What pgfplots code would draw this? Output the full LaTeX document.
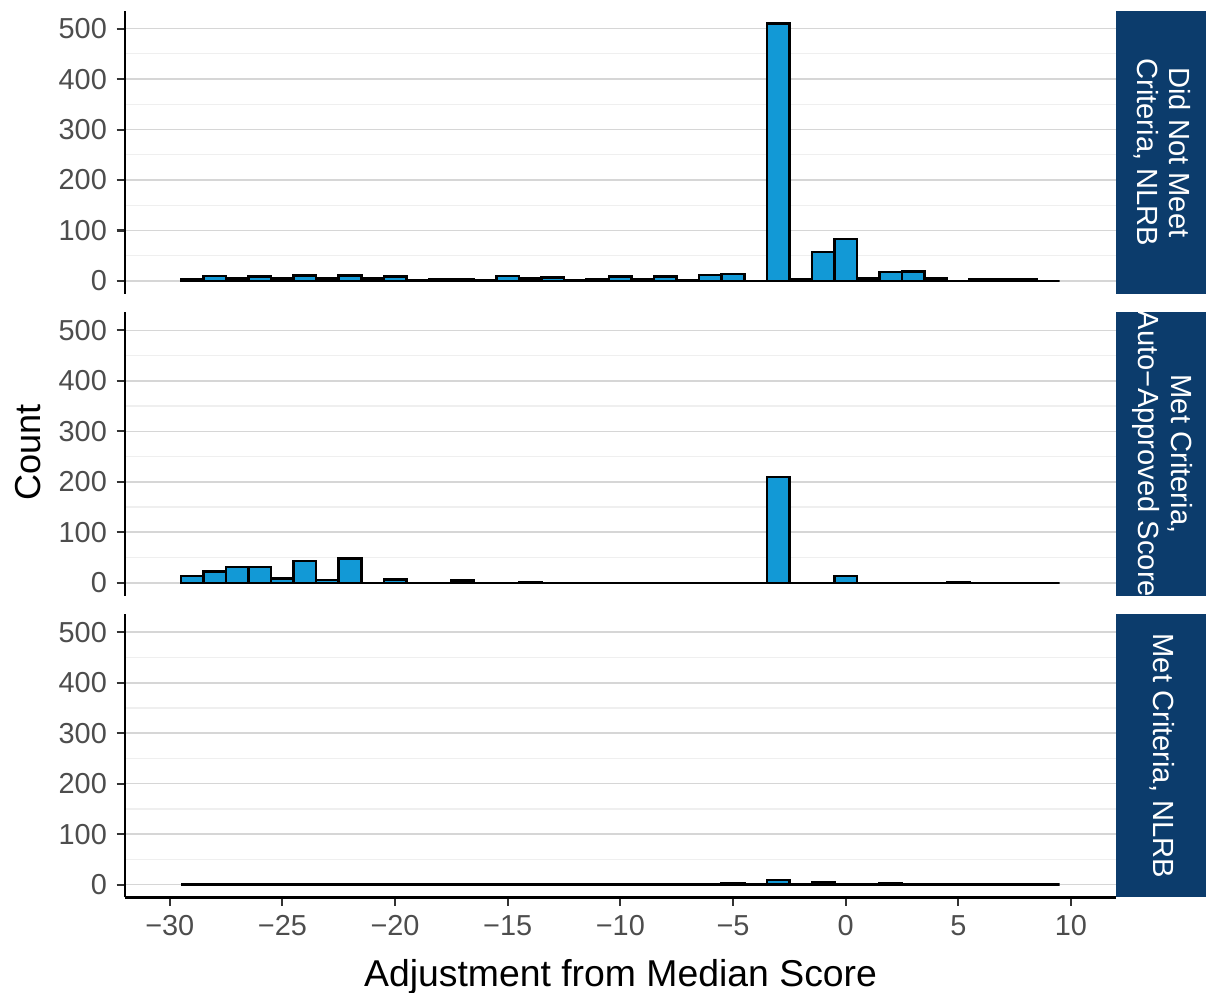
\documentclass[border=0pt]{standalone}
\usepackage{pgfplots}
\pgfplotsset{compat=1.18}
\usepackage{fontspec}
\setmainfont{Liberation Sans}

\definecolor{barfill}{HTML}{1299D6}
\definecolor{stripbg}{HTML}{0C3C6C}
\definecolor{gridmajor}{HTML}{D6D6D6}
\definecolor{gridminor}{HTML}{EFEFEF}
\definecolor{ticktext}{HTML}{4D4D4D}
\definecolor{tickmark}{HTML}{333333}

\pgfplotsset{
  facet/.style={
    scale only axis, width=356.87pt, height=101.95pt,
    anchor=south west,
    xmin=-32, xmax=12, ymin=-25.5, ymax=535.5,
    axis y line*=left,
    axis line style={black, line width=0.75pt, -},
    ytick={0,100,...,500},
    minor ytick={50,150,...,450},
    ymajorgrids, yminorgrids,
    major grid style={gridmajor, line width=0.6pt},
    minor grid style={gridminor, line width=0.45pt},
    tick align=outside, major tick length=2.9pt, minor tick length=0pt,
    tick style={tickmark, line width=0.75pt},
    ticklabel style={font=\fontsize{10.4}{12}\selectfont, text=ticktext},
    /pgf/number format/assume math mode=true,
    ybar, bar width=1, bar shift=0pt,
    clip=false,
  },
  bars/.style={fill=barfill, draw=black, line width=0.9pt},
}

\newcommand{\stripfont}{\fontsize{10.5}{11.6}\selectfont}

\begin{document}
\begin{tikzpicture}
\useasboundingbox (0,0) rectangle (434.16pt,357.48pt);

% Did Not Meet Criteria, NLRB
\begin{axis}[facet, at={(44.89pt,251.68pt)}, axis x line=none]
\addplot[bars] coordinates {
(-29,4) (-28,10) (-27,5) (-26,9) (-25,5) (-24,11) (-23,5) (-22,11) (-21,5) (-20,9)
(-19,2) (-18,3) (-17,3) (-16,1) (-15,10) (-14,5) (-13,7) (-12,2) (-11,4) (-10,9)
(-9,4) (-8,9) (-7,1) (-6,12) (-5,14) (-4,0) (-3,510) (-2,4) (-1,57) (0,83)
(1,5) (2,18) (3,19) (4,5) (5,0) (6,4) (7,4) (8,3) (9,0)};
\end{axis}

% Met Criteria, Auto-Approved Score
\begin{axis}[facet, at={(44.89pt,143.03pt)}, axis x line=none]
\addplot[bars] coordinates {
(-29,13) (-28,22) (-27,31) (-26,31) (-25,9) (-24,43) (-23,6) (-22,48) (-21,0) (-20,7)
(-19,0) (-18,0) (-17,5) (-16,0) (-15,0) (-14,2) (-13,0) (-12,0) (-11,0) (-10,0)
(-9,0) (-8,0) (-7,0) (-6,0) (-5,0) (-4,0) (-3,210) (-2,0) (-1,0) (0,13)
(1,0) (2,0) (3,0) (4,0) (5,2) (6,0) (7,0) (8,0) (9,0)};
\end{axis}

% Met Criteria, NLRB
\begin{axis}[facet, at={(44.89pt,34.38pt)}, axis x line*=bottom,
  xtick={-30,-25,...,10},
  xticklabels={−30,−25,−20,−15,−10,−5,0,5,10}]
\addplot[bars] coordinates {
(-29,0) (-28,0) (-27,0) (-26,0) (-25,0) (-24,0) (-23,0) (-22,0) (-21,0) (-20,0)
(-19,0) (-18,0) (-17,0) (-16,0) (-15,0) (-14,0) (-13,0) (-12,0) (-11,0) (-10,0)
(-9,0) (-8,0) (-7,0) (-6,0) (-5,3) (-4,0) (-3,9) (-2,1) (-1,5) (0,0)
(1,0) (2,3) (3,1) (4,0) (5,0) (6,0) (7,0) (8,0) (9,0)};
\end{axis}

% facet strips
\fill[stripbg] (401.76pt,251.68pt) rectangle (434.16pt,353.63pt);
\fill[stripbg] (401.76pt,143.03pt) rectangle (434.16pt,244.98pt);
\fill[stripbg] (401.76pt,34.38pt) rectangle (434.16pt,136.33pt);
\node[rotate=-90, align=center, text=white, font=\stripfont, inner sep=0pt]
  at (418.5pt,302.65pt) {Did Not Meet\\Criteria, NLRB};
\begin{scope}
\clip (401.76pt,143.03pt) rectangle (434.16pt,244.98pt);
\node[rotate=-90, align=center, text=white, font=\stripfont, inner sep=0pt]
  at (418.5pt,194.0pt) {Met Criteria,\\Auto−Approved Score};
\end{scope}
\node[rotate=-90, align=center, text=white, font=\stripfont, inner sep=0pt]
  at (418.5pt,85.35pt) {Met Criteria, NLRB};

% axis titles
\node[rotate=90, font=\fontsize{13}{15}\selectfont] at (10.08pt,194.6pt) {Count};
\node[anchor=base, font=\fontsize{13.45}{15.5}\selectfont] at (223.4pt,2.27pt) {Adjustment from Median Score};
\end{tikzpicture}
\end{document}
